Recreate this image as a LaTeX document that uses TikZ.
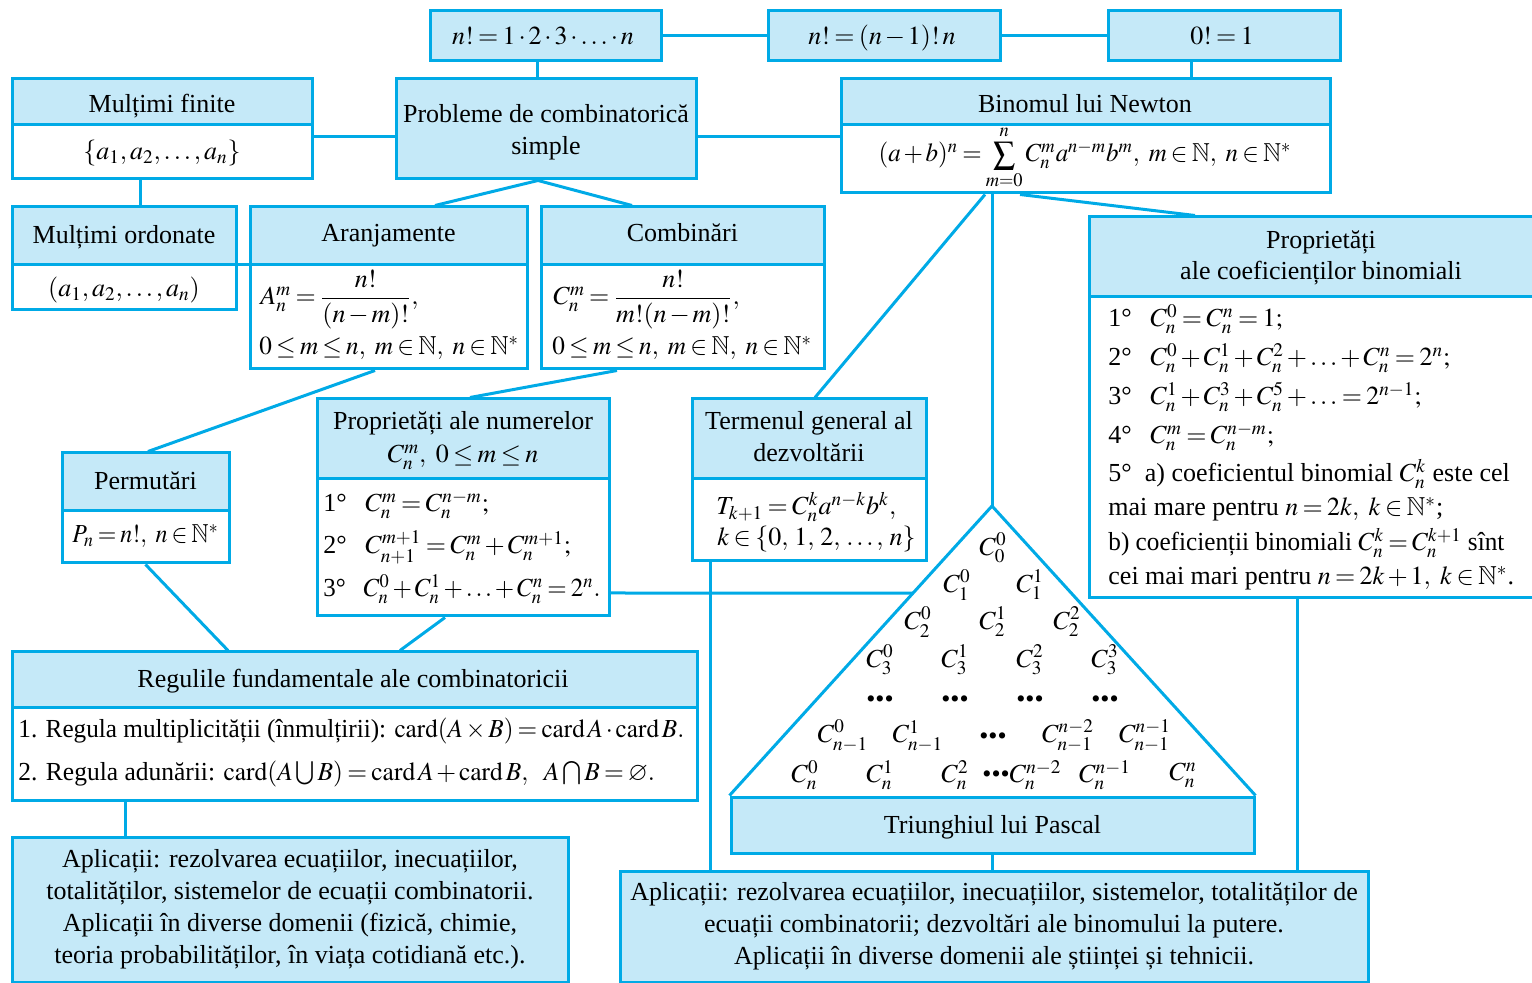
\documentclass[tikz,border=0pt]{standalone}
\usepackage{amsmath}
\usepackage{amssymb}
\usepackage{mathptmx}
\usepackage{graphicx}
\usepackage[no-math]{fontspec}
\setmainfont{Liberation Serif}
\usetikzlibrary{calc}
\definecolor{cb}{RGB}{0,170,230}
\definecolor{lb}{RGB}{197,233,248}
\newcommand\degitem[1]{\makebox[21pt][l]{#1}}
\newcommand\narrow[2]{\scalebox{#1}[1]{#2}}
\newcommand\midsum{\mathop{\vcenter{\hbox{\scalebox{1.25}{$\textstyle\sum$}}}}\limits}
% compact math spacing, as in the printed scheme
\medmuskip=2mu plus 1mu minus 1mu
\thickmuskip=3mu plus 2mu minus 1mu
\begin{document}
\begin{tikzpicture}[x=0.5pt,y=-0.5pt,
  font=\fontsize{13}{16}\selectfont,
  ln/.style={draw=cb,line width=1.5pt},
  boxf/.style 2 args={rectangle,draw=cb,line width=1.5pt,fill=white,inner sep=0pt,
    minimum width=#1,minimum height=#2},
  head/.style={path picture={
    \fill[lb] (path picture bounding box.north west) rectangle ([yshift=-#1]path picture bounding box.north east);
    \draw[cb,line width=1.5pt] ([yshift=-#1]path picture bounding box.north west) -- ([yshift=-#1]path picture bounding box.north east);}},
  tb/.style={inner sep=0pt,anchor=base},
  tc/.style={inner sep=0pt,align=center},
  tl/.style={inner sep=0pt,anchor=base west},
  pe/.style={inner sep=0pt},
]
\useasboundingbox (0,0) rectangle (1532,983);

% ---- factorial boxes along the top
\node[boxf={115.5pt}{25pt},fill=lb] (f1) at (545.5,36) {};
\node[boxf={116pt}{25pt},fill=lb] (f2) at (884,36) {};
\node[boxf={116pt}{25pt},fill=lb] (f3) at (1224,36) {};
\node[tb] (f1-t) at (543,45) {$n!=1\cdot 2\cdot 3\cdot\ldots\cdot n$};
\node[tb] (f2-t) at (882,45) {$n!=(n-1)!\,n$};
\node[tb] (f3-t) at (1222,45) {$0!=1$};

% ---- finite sets
\node[boxf={150pt}{50pt},head=23pt] (mf) at (162,129) {};
\node[tb] (mf-h) at (162,113) {Mulțimi finite};
\node[tb] (mf-b) at (162,160) {$\{a_1, a_2, \ldots, a_n\}$};

% ---- central topic
\node[boxf={150pt}{50pt},fill=lb] (pb) at (546,129) {};
\node[tc] (pb-t) at (546,132) {Probleme de combinatorică\\simple};

% ---- binomial theorem
\node[boxf={244.5pt}{57pt},head=23pt] (bn) at (1085.5,136) {};
\node[tb] (bn-h) at (1085,113) {Binomul lui Newton};
\node[tb] (bn-b) at (1085,162) {\narrow{0.96}{$(a+b)^n=\midsum_{m=0}^{n}C_n^m a^{n-m}b^m,\ m\in\mathbb{N},\ n\in\mathbb{N}^*$}};

% ---- ordered sets
\node[boxf={112pt}{51.5pt},head=29pt] (mo) at (124,258.5) {};
\node[tb] (mo-h) at (124,244) {Mulțimi ordonate};
\node[tb] (mo-b) at (124,297) {$(a_1, a_2, \ldots, a_n)$};

% ---- arrangements
\node[boxf={138.5pt}{81pt},head=29pt] (ar) at (388.5,288) {};
\node[tb] (ar-h) at (388.5,242) {Aranjamente};
\node[tl] (ar-b1) at (260,305) {$A_n^m=\dfrac{n!}{(n-m)!},$};
\node[tl] (ar-b2) at (259,355) {\narrow{0.97}{$0\le m\le n,\ m\in\mathbb{N},\ n\in\mathbb{N}^*$}};

% ---- combinations
\node[boxf={141.5pt}{81pt},head=29pt] (cb) at (682.5,288) {};
\node[tb] (cb-h) at (682.5,242) {Combinări};
\node[tl] (cb-b1) at (553,305) {$C_n^m=\dfrac{n!}{m!(n-m)!},$};
\node[tl] (cb-b2) at (552,355) {\narrow{0.97}{$0\le m\le n,\ m\in\mathbb{N},\ n\in\mathbb{N}^*$}};

% ---- permutations
\node[boxf={83.5pt}{55pt},head=29pt] (pm) at (145.5,508) {};
\node[tb] (pm-h) at (145.5,490) {Permutări};
\node[tb] (pm-b) at (145.5,543) {\narrow{0.92}{$P_n=n!,\ n\in\mathbb{N}^*$}};

% ---- properties of C_n^m
\node[boxf={146pt}{108.5pt},head=40pt] (pn) at (463,507.5) {};
\node[tb] (pn-h1) at (463,430) {Proprietăți ale numerelor};
\node[tb] (pn-h2) at (463,463) {$C_n^m,\ 0\le m\le n$};
\node[tl] (pn-1) at (323,512) {\degitem{1°}$C_n^m=C_n^{n-m};$};
\node[tl] (pn-2) at (323,554) {\degitem{2°}$C_{n+1}^{m+1}=C_n^m+C_n^{m+1};$};
\node[tl] (pn-3) at (323,597) {\narrow{0.96}{\degitem{3°}$C_n^0+C_n^1+\ldots+C_n^n=2^n.$}};

% ---- general term
\node[boxf={117pt}{81pt},head=40pt] (tg) at (809,480) {};
\node[tb] (tg-h1) at (809,430) {Termenul general al};
\node[tb] (tg-h2) at (809,462) {dezvoltării};
\node[tl] (tg-b1) at (716,515) {$T_{k+1}=C_n^k a^{n-k}b^k,$};
\node[tl] (tg-b2) at (717,546) {$k\in\{0,\,1,\,2,\,\ldots,\,n\}$};

% ---- properties of binomial coefficients
\node[boxf={225.5pt}{190.5pt},head=40pt] (pc) at (1314.5,407.5) {};
\node[tb] (pc-h1) at (1321,249) {Proprietăți};
\node[tb] (pc-h2) at (1321,280) {ale coeficienților binomiali};
\node[tl] (pc-1) at (1108,327) {\degitem{1°}$C_n^0=C_n^n=1;$};
\node[tl] (pc-2) at (1108,366) {\degitem{2°}$C_n^0+C_n^1+C_n^2+\ldots+C_n^n=2^n;$};
\node[tl] (pc-3) at (1108,405) {\degitem{3°}$C_n^1+C_n^3+C_n^5+\ldots=2^{n-1};$};
\node[tl] (pc-4) at (1108,444) {\degitem{4°}$C_n^m=C_n^{n-m};$};
\node[tl] (pc-5) at (1108,482) {5°\ \ a) coeficientul binomial $C_n^k$ este cel};
\node[tl] (pc-6) at (1108,516) {mai mare pentru $n=2k,\ k\in\mathbb{N}^*$;};
\node[tl] (pc-7) at (1108,551) {\narrow{0.97}{b) coeficienții binomiali $C_n^k=C_n^{k+1}$ sînt}};
\node[tl] (pc-8) at (1108,585) {cei mai mari pentru $n=2k+1,\ k\in\mathbb{N}^*$.};

% ---- Pascal's triangle
\node[boxf={261.5pt}{28pt},fill=lb] (tp) at (992.5,825) {};
\node[tb] (tp-t) at (992.5,834) {Triunghiul lui Pascal};
\coordinate (apex) at (992,506);
\coordinate (tl) at (tp.north west);
\draw[ln,line join=miter] (tp.north west) -- (apex) -- (tp.north east);
\node[pe] (p00) at (993,548) {$C_0^0$};
\node[pe] (p10) at (957,585) {$C_1^0$};
\node[pe] (p11) at (1030,585) {$C_1^1$};
\node[pe] (p20) at (918,622) {$C_2^0$};
\node[pe] (p21) at (993,622) {$C_2^1$};
\node[pe] (p22) at (1067,622) {$C_2^2$};
\node[pe] (p30) at (880,660) {$C_3^0$};
\node[pe] (p31) at (955,660) {$C_3^1$};
\node[pe] (p32) at (1030,660) {$C_3^2$};
\node[pe] (p33) at (1105,660) {$C_3^3$};
\node[pe] (d1) at (880,702) {•••};
\node[pe] (d2) at (955,702) {•••};
\node[pe] (d3) at (1030,702) {•••};
\node[pe] (d4) at (1105,702) {•••};
\node[pe] (q0) at (843,736) {$C_{n-1}^0$};
\node[pe] (q1) at (918,736) {$C_{n-1}^1$};
\node[pe] (qd) at (993,739) {•••};
\node[pe] (q2) at (1068,736) {$C_{n-1}^{n-2}$};
\node[pe] (q3) at (1145,736) {$C_{n-1}^{n-1}$};
\node[pe] (r0) at (805,775) {$C_n^0$};
\node[pe] (r1) at (880,775) {$C_n^1$};
\node[pe] (r2) at (955,775) {$C_n^2$};
\node[pe] (r3) at (1022,775) {•••$C_n^{n-2}$};
\node[pe] (r4) at (1105,775) {$C_n^{n-1}$};
\node[pe] (r5) at (1183,775) {$C_n^n$};

% ---- fundamental rules
\node[boxf={342.5pt}{74pt},head=28pt] (rf) at (354.5,726) {};
\node[tb] (rf-h) at (353,688) {Regulile fundamentale ale combinatoricii};
\node[tl] (rf-1) at (18,738) {\narrow{0.97}{1. Regula multiplicității (înmulțirii): $\mathrm{card}(A\times B)=\mathrm{card}\,A\cdot\mathrm{card}\,B.$}};
\node[tl] (rf-2) at (18,780) {\narrow{0.98}{2. Regula adunării: $\mathrm{card}(A\mathbin{\bigcup}B)=\mathrm{card}\,A+\mathrm{card}\,B,\ \ A\mathbin{\bigcap}B=\varnothing.$}};

% ---- applications
\node[boxf={278pt}{72.5pt},fill=lb,align=center] (al) at (290,909.5)
  {Aplicații: rezolvarea ecuațiilor, inecuațiilor,\\totalităților, sistemelor de ecuații combinatorii.\\Aplicații în diverse domenii (fizică, chimie,\\teoria probabilităților, în viața cotidiană etc.).};
\node[boxf={374pt}{55.5pt},fill=lb,align=center] (apr) at (994,926.5)
  {Aplicații: rezolvarea ecuațiilor, inecuațiilor, sistemelor, totalităților de\\ecuații combinatorii; dezvoltări ale binomului la putere.\\Aplicații în diverse domenii ale științei și tehnicii.};

% ---- connectors
\draw[ln] (f1.east) -- (f2.west);
\draw[ln] (f2.east) -- (f3.west);
\draw[ln] ([xshift=-4pt]f1.south) -- ([xshift=-4pt]f1.south |- pb.north);
\draw[ln] ([xshift=-16.5pt]f3.south) -- ([xshift=-16.5pt]f3.south |- bn.north);
\draw[ln] ([yshift=-4pt]mf.east) -- ([yshift=-4pt]mf.east -| pb.west);
\draw[ln] ([yshift=-4pt]pb.east) -- ([yshift=-4pt]pb.east -| bn.west);
\draw[ln] ([xshift=-11pt]mf.south) -- ([xshift=-11pt]mf.south |- mo.north);
\draw[ln] ([yshift=-3.25pt]mo.east) -- ([yshift=-3.25pt]mo.east -| ar.west);
\draw[ln] ([xshift=-4pt]pb.south) -- ([xshift=23.25pt]ar.north);
\draw[ln] ([xshift=-4pt]pb.south) -- ([xshift=-25.25pt]cb.north);
\draw[ln] ([xshift=-6.75pt]ar.south) -- ([xshift=1.25pt]pm.north);
\draw[ln] ([xshift=-32.75pt]cb.south) -- ([xshift=3.5pt]pn.north);
\draw[ln] ([xshift=-50.25pt]bn.south) -- ([xshift=3pt]tg.north);
\draw[ln] ([xshift=-46.75pt]bn.south) -- (apex);
\draw[ln] ([xshift=-32.75pt]bn.south) -- ([xshift=-59.75pt]pc.north);
\draw[ln] (pm.south) -- ([xshift=-63.25pt]rf.north);
\draw[ln] ([xshift=-9pt]pn.south) -- ([xshift=22.75pt]rf.north);
\draw[ln] ([xshift=-114.75pt]rf.south) -- ([xshift=-114.75pt]rf.south |- al.north);
\draw[ln] ([xshift=-49.5pt]tg.south) -- ([xshift=-49.5pt]tg.south |- apr.north);
\draw[ln] (tp.south) -- (tp.south |- apr.north);
\draw[ln] ([xshift=-8.75pt]pc.south) -- ([xshift=-8.75pt]pc.south |- apr.north);
\coordinate (pe) at ([yshift=-42.75pt]pn.east);
\coordinate (pe2) at ([xshift=20pt]pe);
\draw[ln] (pe) -- (intersection of apex--tl and pe--pe2);
\end{tikzpicture}
\end{document}
